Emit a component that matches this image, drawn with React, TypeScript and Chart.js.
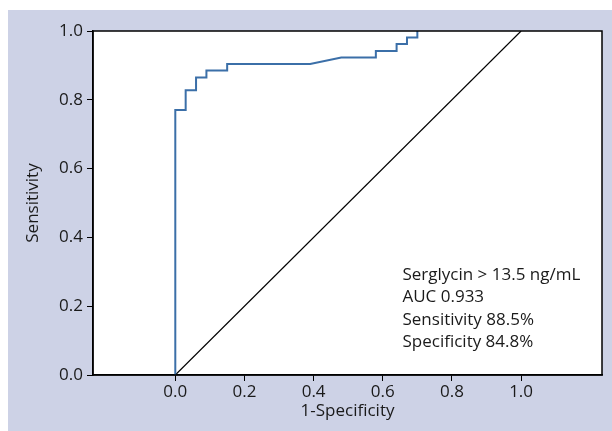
import React, { useEffect, useRef } from "react";
import { Chart, registerables } from "chart.js";

Chart.register(...registerables);

// ROC curve (1-specificity, sensitivity)
const rocFpr = [0, 0, 0.03, 0.03, 0.06, 0.06, 0.09, 0.09, 0.15, 0.15, 0.39, 0.48, 0.58, 0.58, 0.64, 0.64, 0.67, 0.67, 0.70, 0.70];
const rocTpr = [0, 0.77, 0.77, 0.828, 0.828, 0.865, 0.865, 0.885, 0.885, 0.904, 0.904, 0.923, 0.923, 0.942, 0.942, 0.962, 0.962, 0.981, 0.981, 1.0];

// Reference (chance) line
const refFpr = [0, 1];
const refTpr = [0, 1];

const xTickValues = [0, 0.2, 0.4, 0.6, 0.8, 1.0];
const yTickValues = [0, 0.2, 0.4, 0.6, 0.8, 1.0];

const xAxisTitle = "1-Specificity";
const yAxisTitle = "Sensitivity";

const annotationLines = [
  "Serglycin > 13.5 ng/mL",
  "AUC 0.933",
  "Sensitivity 88.5%",
  "Specificity 84.8%",
];

const FONT = "'Open Sans', 'Noto Sans', sans-serif";
const TEXT = "#1a1a1a";
const FS = 17;

const framePlugin = {
  id: "frame",
  beforeDraw(chart: any) {
    const { ctx, chartArea: a } = chart;
    ctx.save();
    ctx.fillStyle = "#ffffff";
    ctx.fillRect(a.left, a.top, a.right - a.left, a.bottom - a.top);
    ctx.restore();
  },
  afterDraw(chart: any) {
    const { ctx, chartArea: a, scales } = chart;
    ctx.save();
    ctx.strokeStyle = "#000";
    ctx.lineWidth = 1.5;
    ctx.strokeRect(a.left, a.top, a.right - a.left, a.bottom - a.top);
    // annotation text
    ctx.fillStyle = TEXT;
    ctx.font = `${FS}px ${FONT}`;
    ctx.textAlign = "left";
    ctx.textBaseline = "middle";
    const x0 = scales.x.getPixelForValue(0.657);
    const y0 = scales.y.getPixelForValue(0.29);
    annotationLines.forEach((t, i) => {
      ctx.fillText(t, x0, y0 + i * 22.3);
    });
    ctx.restore();
  },
};

export default function App() {
  const ref = useRef<HTMLCanvasElement | null>(null);

  useEffect(() => {
    if (!ref.current) return;
    const chart = new Chart(ref.current, {
      type: "scatter",
      data: {
        datasets: [
          {
            label: "ROC",
            data: rocFpr.map((x, i) => ({ x, y: rocTpr[i] })),
            showLine: true,
            borderColor: "#3b6fa8",
            borderWidth: 2,
            pointRadius: 0,
            fill: false,
            tension: 0,
          },
          {
            label: "Reference",
            data: refFpr.map((x, i) => ({ x, y: refTpr[i] })),
            showLine: true,
            borderColor: "#000",
            borderWidth: 1.2,
            pointRadius: 0,
            fill: false,
          },
        ],
      },
      options: {
        animation: false,
        responsive: false,
        devicePixelRatio: 1,
        layout: { padding: { top: 21, right: 10, left: 0, bottom: 0 } },
        plugins: { legend: { display: false }, tooltip: { enabled: false } },
        scales: {
          x: {
            type: "linear",
            min: -0.238,
            max: 1.234,
            afterBuildTicks: (s: any) => {
              s.ticks = xTickValues.map((v) => ({ value: v }));
            },
            afterFit: (s: any) => {
              s.height = 56;
            },
            ticks: {
              callback: (v: any) => Number(v).toFixed(1),
              font: { family: FONT, size: FS },
              color: TEXT,
              padding: 1,
              maxRotation: 0,
              autoSkip: false,
            },
            grid: { drawOnChartArea: false, drawTicks: true, tickLength: 6, color: "#000", lineWidth: 1 },
            border: { display: true, color: "#000", width: 1.5 },
            title: {
              display: true,
              text: xAxisTitle,
              font: { family: FONT, size: FS },
              color: TEXT,
              padding: { top: 0, bottom: 10 },
            },
          },
          y: {
            type: "linear",
            min: 0,
            max: 1,
            afterBuildTicks: (s: any) => {
              s.ticks = yTickValues.map((v) => ({ value: v }));
            },
            afterFit: (s: any) => {
              s.width = 85;
            },
            ticks: {
              callback: (v: any) => Number(v).toFixed(1),
              font: { family: FONT, size: FS },
              color: TEXT,
              padding: 4,
              autoSkip: false,
            },
            grid: { drawOnChartArea: false, drawTicks: true, tickLength: 6, color: "#000", lineWidth: 1 },
            border: { display: true, color: "#000", width: 1.5 },
            title: {
              display: true,
              text: yAxisTitle,
              font: { family: FONT, size: FS },
              color: TEXT,
              padding: { top: 15, bottom: 0 },
            },
          },
        },
      },
      plugins: [framePlugin],
    });
    return () => chart.destroy();
  }, []);

  return (
    <div style={{ position: "fixed", left: 0, top: 0, width: 612, height: 431, background: "#ffffff" }}>
      <div style={{ position: "absolute", left: 8, top: 10, width: 604, height: 421, background: "#cdd2e6" }}>
        <canvas ref={ref} width={604} height={421} style={{ display: "block", width: 604, height: 421 }} />
      </div>
    </div>
  );
}
